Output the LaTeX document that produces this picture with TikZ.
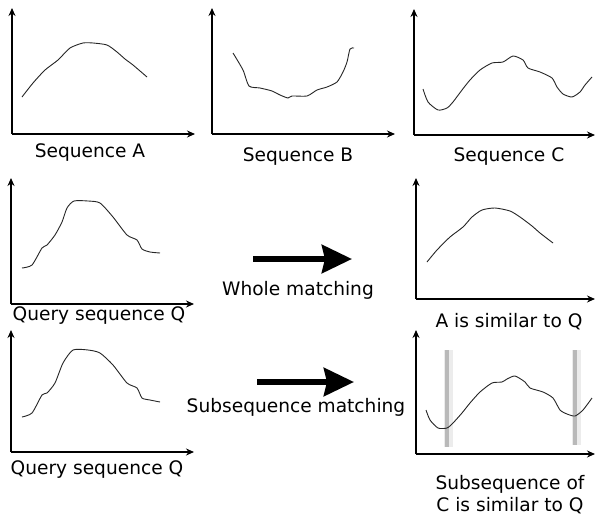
\documentclass[tikz,border=0pt]{standalone}
\usepackage{fontspec}
\setmainfont{DejaVu Sans}
\usetikzlibrary{arrows.meta}
\begin{document}
\begin{tikzpicture}[x=1pt,y=-1pt,
  axis/.style={line width=1.2pt,-{Stealth[length=8pt,width=7pt]}},
  curve/.style={line width=0.9pt,black!85,smooth,tension=0.4},
  lbl/.style={font=\fontsize{18.6}{22}\selectfont,inner sep=0pt,align=center},
  bigarrow/.style={line width=6pt,-{Stealth[length=30pt,width=28pt,inset=3pt]}},
  bar/.style={line width=4pt,gray!55},
  halo/.style={line width=9pt,gray!15}]
\useasboundingbox (0,0) rectangle (598,517);
\fill[white] (0,0) rectangle (598,517);

% ---- Sequence A
\coordinate (Ao) at (12,134); \coordinate (Ay) at (12,8); \coordinate (Ax) at (195,134);
\draw[axis] (Ao) -- (Ay); \draw[axis] (Ao) -- (Ax);
\draw[curve] plot coordinates {(22,97) (33,83) (45,70) (58,60) (70,48) (83,43) (93,43) (107,45) (117,52) (125,59) (133,65) (147,77)};
\node[lbl] (la) at (90,153) {Sequence A};

% ---- Sequence B
\coordinate (Bo) at (212,134); \coordinate (By) at (212,8); \coordinate (Bx) at (395,134);
\draw[axis] (Bo) -- (By); \draw[axis] (Bo) -- (Bx);
\draw[curve] plot coordinates {(233,53) (243,70) (249,86) (260,88) (272,91) (280,95) (288,98) (292,96) (307,96) (317,90) (327,87) (337,82) (343,72) (347,62) (350,49) (354,48)};
\node[lbl] (lb) at (298,157) {Sequence B};

% ---- Sequence C
\coordinate (Co) at (414,135); \coordinate (Cy) at (414,9); \coordinate (Cx) at (595,135);
\draw[axis] (Co) -- (Cy); \draw[axis] (Co) -- (Cx);
\draw[curve] plot coordinates {(423,89) (428,102) (438,110) (447,108) (453,102) (462,90) (470,80) (480,70) (492,63) (503,62) (513,56) (523,60) (528,68) (540,72) (552,78) (557,87) (563,94) (572,97) (580,92) (585,85) (592,77)};
\node[lbl] (lc) at (509,157) {Sequence C};

% ---- Query sequence Q (1)
\coordinate (Qo) at (11,304); \coordinate (Qy) at (11,178); \coordinate (Qx) at (194,304);
\draw[axis] (Qo) -- (Qy); \draw[axis] (Qo) -- (Qx);
\draw[curve] plot coordinates {(22,268) (32,265) (42,248) (47,245) (55,235) (62,222) (67,208) (74,201) (88,201) (100,203) (113,217) (127,235) (137,240) (142,249) (150,252) (160,253)};
\node[lbl] (lq1) at (99,316) {Query sequence Q};

% ---- A is similar to Q
\coordinate (Do) at (416,299); \coordinate (Dy) at (416,178); \coordinate (Dx) at (595,299);
\draw[axis] (Do) -- (Dy); \draw[axis] (Do) -- (Dx);
\draw[curve] plot coordinates {(427,262) (437,250) (450,237) (463,227) (472,217) (482,210) (495,208) (510,211) (520,217) (532,226) (540,233) (553,243)};
\node[lbl] (ld) at (509,322) {A is similar to Q};

% ---- Query sequence Q (2)
\coordinate (Ro) at (11,452); \coordinate (Ry) at (11,330); \coordinate (Rx) at (194,452);
\draw[axis] (Ro) -- (Ry); \draw[axis] (Ro) -- (Rx);
\draw[curve] plot coordinates {(22,417) (32,413) (42,395) (47,393) (55,383) (63,363) (73,350) (88,350) (100,353) (113,365) (127,383) (137,388) (142,398) (150,400) (160,402)};
\node[lbl] (lq2) at (97,470) {Query sequence Q};

% ---- Subsequence of C
\coordinate (So) at (416,454); \coordinate (Sy) at (416,330); \coordinate (Sx) at (595,454);
\draw[halo] (448,350) -- (448,447); \draw[halo] (576,350) -- (576,445);
\draw[bar] (447,350) -- (447,447); \draw[bar] (575,350) -- (575,445);
\draw[axis] (So) -- (Sy); \draw[axis] (So) -- (Sx);
\draw[curve] plot coordinates {(426,410) (430,420) (438,428) (447,428) (453,423) (462,413) (470,403) (480,392) (492,383) (502,382) (507,379) (515,376) (525,382) (530,388) (543,392) (553,398) (560,410) (567,414) (575,416) (583,410) (592,398)};
\node[lbl] (ls) at (510,495) {Subsequence of\\C is similar to Q};

% ---- matching arrows
\coordinate (w1) at (253,259); \coordinate (w2) at (352,259);
\draw[bigarrow] (w1) -- (w2);
\node[lbl] (lw) at (298,290) {Whole matching};
\coordinate (s1) at (257,382); \coordinate (s2) at (354,382);
\draw[bigarrow] (s1) -- (s2);
\node[lbl] (lsm) at (296,407) {Subsequence matching};
\end{tikzpicture}
\end{document}
